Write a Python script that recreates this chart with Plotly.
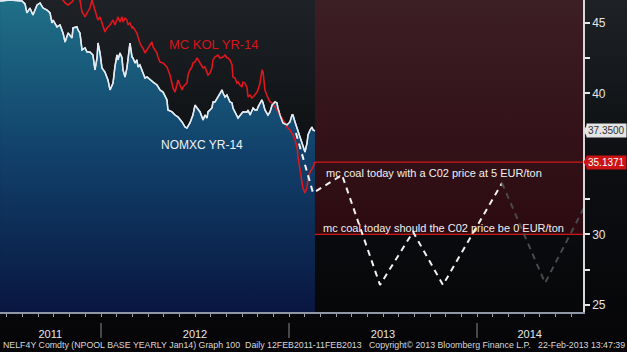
import base64
import plotly.graph_objects as go

# ---------------- data (decimal years, EUR/MWh) ----------------
nomxc_t = [2011.463, 2011.516, 2011.580, 2011.596, 2011.606, 2011.622, 2011.638, 2011.660, 2011.676, 2011.692,
           2011.713, 2011.729, 2011.739, 2011.745, 2011.766, 2011.782, 2011.798, 2011.809, 2011.825, 2011.846,
           2011.851, 2011.872, 2011.878, 2011.888, 2011.899, 2011.915, 2011.926, 2011.941, 2011.957, 2011.968,
           2011.979, 2011.984, 2011.995, 2012.005, 2012.021, 2012.037, 2012.048, 2012.064, 2012.074, 2012.085,
           2012.090, 2012.101, 2012.112, 2012.117, 2012.128, 2012.138, 2012.154, 2012.165, 2012.170, 2012.181,
           2012.191, 2012.197, 2012.207, 2012.223, 2012.234, 2012.245, 2012.261, 2012.277, 2012.298, 2012.314,
           2012.330, 2012.351, 2012.356, 2012.378, 2012.394, 2012.410, 2012.431, 2012.447, 2012.457, 2012.473,
           2012.489, 2012.500, 2012.511, 2012.527, 2012.543, 2012.553, 2012.564, 2012.569, 2012.590, 2012.596,
           2012.606, 2012.617, 2012.622, 2012.644, 2012.649, 2012.660, 2012.670, 2012.686, 2012.697, 2012.702,
           2012.723, 2012.729, 2012.750, 2012.755, 2012.777, 2012.782, 2012.793, 2012.803, 2012.809, 2012.819,
           2012.830, 2012.835, 2012.856, 2012.862, 2012.872, 2012.888, 2012.899, 2012.910, 2012.926, 2012.936,
           2012.941, 2012.952, 2012.963, 2012.968, 2012.989, 2013.005, 2013.016, 2013.021, 2013.032, 2013.043,
           2013.048, 2013.059, 2013.069, 2013.074, 2013.085, 2013.096, 2013.101, 2013.112, 2013.122, 2013.128,
           2013.138]
nomxc_v = [46.56, 46.63, 46.56, 46.35, 45.71, 46.06, 45.57, 46.28, 46.42, 46.06,
           45.92, 45.71, 45.00, 45.21, 44.72, 44.86, 44.29, 43.65, 44.29, 43.94,
           44.65, 44.72, 44.50, 44.29, 43.09, 43.23, 42.94, 42.94, 42.73, 41.67,
           42.52, 43.58, 42.87, 41.81, 41.52, 40.96, 40.25, 40.74, 41.88, 42.73,
           42.38, 42.87, 42.52, 41.67, 41.17, 41.81, 43.58, 42.59, 42.52, 42.16,
           42.38, 41.88, 42.02, 41.52, 41.10, 41.17, 40.96, 40.81, 40.60, 40.25,
           40.10, 39.54, 38.83, 38.69, 38.47, 38.33, 37.98, 37.62, 37.55, 37.91,
           38.47, 39.18, 38.97, 38.69, 38.12, 38.47, 38.26, 38.69, 38.97, 39.40,
           39.40, 39.68, 39.75, 40.25, 40.03, 39.75, 39.89, 39.40, 39.33, 38.97,
           38.33, 38.26, 38.62, 38.69, 38.69, 38.83, 38.47, 38.83, 38.97, 38.83,
           38.83, 39.04, 39.54, 39.33, 38.83, 38.47, 38.69, 39.18, 39.40, 39.33,
           38.97, 38.47, 38.12, 37.91, 37.77, 37.98, 38.47, 38.47, 37.98, 37.55,
           37.20, 36.84, 36.49, 36.20, 35.85, 36.49, 37.06, 37.41, 37.62, 37.41,
           37.35]

mckol_t = [2011.729, 2011.771, 2011.798, 2011.809, 2011.825, 2011.846, 2011.867, 2011.888, 2011.899, 2011.915,
           2011.926, 2011.941, 2011.952, 2011.968, 2011.979, 2011.984, 2011.995, 2012.005, 2012.021, 2012.032,
           2012.048, 2012.064, 2012.074, 2012.085, 2012.090, 2012.101, 2012.112, 2012.117, 2012.128, 2012.138,
           2012.144, 2012.154, 2012.165, 2012.170, 2012.191, 2012.197, 2012.207, 2012.218, 2012.223, 2012.234,
           2012.245, 2012.261, 2012.271, 2012.277, 2012.287, 2012.298, 2012.303, 2012.314, 2012.330, 2012.351,
           2012.367, 2012.378, 2012.383, 2012.394, 2012.404, 2012.410, 2012.420, 2012.431, 2012.436, 2012.447,
           2012.457, 2012.463, 2012.473, 2012.484, 2012.489, 2012.500, 2012.511, 2012.527, 2012.543, 2012.553,
           2012.564, 2012.569, 2012.580, 2012.590, 2012.596, 2012.606, 2012.622, 2012.633, 2012.649, 2012.660,
           2012.670, 2012.676, 2012.686, 2012.697, 2012.702, 2012.713, 2012.723, 2012.729, 2012.739, 2012.750,
           2012.755, 2012.766, 2012.777, 2012.782, 2012.793, 2012.803, 2012.809, 2012.819, 2012.830, 2012.835,
           2012.846, 2012.856, 2012.862, 2012.872, 2012.883, 2012.888, 2012.899, 2012.910, 2012.915, 2012.926,
           2012.936, 2012.941, 2012.952, 2012.968, 2012.979, 2012.989, 2012.995, 2013.005, 2013.021, 2013.032,
           2013.043, 2013.048, 2013.059, 2013.069, 2013.074, 2013.085, 2013.096, 2013.101, 2013.112, 2013.128,
           2013.138]
mckol_v = [47.70, 46.99, 46.63, 46.42, 46.28, 46.49, 46.91, 46.63, 45.78, 45.43,
           45.71, 46.06, 46.63, 45.92, 45.57, 45.21, 45.43, 45.00, 44.36, 44.65,
           44.86, 45.21, 44.86, 45.21, 45.43, 45.07, 45.43, 45.07, 45.35, 45.21,
           44.86, 45.00, 44.65, 44.72, 44.29, 44.01, 43.58, 43.30, 43.23, 42.87,
           43.09, 43.44, 43.65, 43.30, 43.09, 42.87, 42.59, 42.23, 42.16, 41.88,
           41.31, 40.74, 40.39, 40.10, 40.81, 40.96, 40.60, 40.25, 40.46, 40.60,
           40.74, 41.31, 41.67, 41.88, 42.16, 42.23, 42.52, 42.16, 41.81, 41.88,
           41.52, 41.31, 41.45, 41.81, 42.38, 42.59, 42.73, 42.52, 42.59, 42.73,
           42.52, 42.52, 42.38, 42.02, 41.17, 41.10, 40.74, 40.81, 40.60, 40.46,
           40.81, 40.74, 40.39, 39.75, 39.89, 39.68, 39.75, 39.89, 40.10, 40.25,
           40.74, 41.67, 41.52, 40.25, 39.75, 39.68, 39.40, 39.33, 39.18, 39.04,
           38.83, 38.69, 38.47, 38.12, 37.91, 37.62, 37.55, 37.41, 37.06, 36.70,
           36.20, 35.50, 34.57, 33.87, 33.30, 32.94, 33.37, 34.01, 34.43, 34.79,
           35.1371]

proj_t = [2013.037, 2013.128, 2013.282, 2013.484, 2013.660, 2013.819, 2014.133]
proj_v = [37.20, 32.94, 34.22, 26.42, 30.18, 26.42, 33.65]
proj2_t = [2014.133, 2014.362, 2014.654]
proj2_v = [33.65, 26.56, 34.08]

co2_5_level = 35.1371   # mc coal with CO2 at 5 EUR/ton
co2_0_level = 30.0      # mc coal with CO2 at 0 EUR/ton
last_nomxc = 37.35

year_ticks = [2011.73, 2012.5, 2013.5, 2014.28]
year_labels = ["2011", "2012", "2013", "2014"]
year_bounds = [2012, 2013, 2014]
y_ticks = [25, 27.5, 30, 32.5, 35, 37.5, 40, 42.5, 45]
y_labels = ["25", "", "30", "", "", "", "40", "", "45"]

x_range = [2011.4628, 2014.5638]
y_range = [24.5, 46.63]

FONT = "Liberation Sans"

fig = go.Figure()

# future shaded region (dark maroon)
x0 = nomxc_t[-1]
x1 = x_range[1] + 0.2
fig.add_trace(go.Scatter(
    x=[x0, x1, x1, x0, x0], y=[co2_0_level, co2_0_level, y_range[1] + 1, y_range[1] + 1, co2_0_level],
    mode="lines", line=dict(width=0), fill="toself",
    fillgradient=dict(type="vertical", start=co2_0_level, stop=y_range[1],
                      colorscale=[[0, "#2c0a10"], [1, "#3c1e25"]]),
    hoverinfo="skip", showlegend=False))

# NOMXC with gradient area
fig.add_trace(go.Scatter(
    x=nomxc_t, y=nomxc_v, mode="lines", line=dict(color="#dfe7ef", width=1.5),
    fill="tozeroy",
    fillgradient=dict(type="vertical", start=y_range[0], stop=y_range[1],
                      colorscale=[[0, "#091640"], [0.5, "#11406a"], [1, "#1f7088"]]),
    hoverinfo="skip", showlegend=False))

# MC KOL
fig.add_trace(go.Scatter(x=mckol_t, y=mckol_v, mode="lines",
                         line=dict(color="#e0161c", width=1.6), showlegend=False))
# white line on top again
fig.add_trace(go.Scatter(x=nomxc_t, y=nomxc_v, mode="lines",
                         line=dict(color="#e4ebf2", width=1.4), showlegend=False))

# level lines
for lvl in (co2_5_level, co2_0_level):
    fig.add_trace(go.Scatter(x=[x0, x1], y=[lvl, lvl], mode="lines",
                             line=dict(color="#d01818", width=1.3), showlegend=False))

# projection zig-zag
fig.add_trace(go.Scatter(x=proj_t, y=proj_v, mode="lines",
                         line=dict(color="#f2f2f2", width=2, dash="6px,5px"), showlegend=False))
fig.add_trace(go.Scatter(x=proj2_t, y=proj2_v, mode="lines",
                         line=dict(color="#4a4a4e", width=2, dash="6px,5px"), showlegend=False))

# background gradient image
svg = ('<svg xmlns="http://www.w3.org/2000/svg" width="10" height="100" preserveAspectRatio="none">'
       '<defs><linearGradient id="g" x1="0" y1="0" x2="0" y2="1">'
       '<stop offset="0" stop-color="#1e2226"/><stop offset="0.45" stop-color="#0d0f12"/>'
       '<stop offset="1" stop-color="#050507"/></linearGradient></defs>'
       '<rect width="10" height="100" fill="url(#g)"/></svg>')
uri = "data:image/svg+xml;base64," + base64.b64encode(svg.encode()).decode()

W, H = 627, 352
ml, mr, mt, mb = 0, 44, 0, 40
pw, ph = W - ml - mr, H - mt - mb

fig.update_layout(
    width=W, height=H,
    margin=dict(l=ml, r=mr, t=mt, b=mb, pad=0),
    paper_bgcolor="#060709", plot_bgcolor="rgba(0,0,0,0)",
    images=[dict(source=uri, xref="paper", yref="paper", x=0, y=1,
                 sizex=W / pw, sizey=H / ph, sizing="stretch", layer="below", xanchor="left", yanchor="top")],
    font=dict(family=FONT, color="#e6e6e6"),
    xaxis=dict(range=x_range, showgrid=False, zeroline=False,
               showline=True, linecolor="#8e98a6", linewidth=2,
               tickmode="array", tickvals=year_ticks, ticktext=year_labels,
               ticks="outside", ticklen=11, tickcolor="rgba(0,0,0,0)",
               tickfont=dict(size=11, color="#e6e6e6", family=FONT),
               minor=dict(tick0=2011, dtick=1 / 12, ticks="outside", ticklen=3,
                          tickcolor="#9aa0aa", tickwidth=1, showgrid=False)),
    yaxis=dict(range=y_range, side="right", showgrid=False, zeroline=False,
               showline=True, linecolor="#d8d8d8", linewidth=1.5,
               tickmode="array", tickvals=y_ticks, ticktext=y_labels,
               ticks="outside", ticklen=5, tickwidth=2, tickcolor="#e8e8e8",
               tickfont=dict(size=12, color="#e6e6e6", family=FONT)),
    showlegend=False,
)

# year dividers below axis
for yb in year_bounds:
    fig.add_shape(type="line", xref="x", yref="paper", x0=yb, x1=yb,
                  y0=-11 / ph, y1=-26 / ph, line=dict(color="#8a8a8a", width=1))

# small pointers for the last-value boxes
for lvl, col in ((last_nomxc, "#e4e4e4"), (co2_5_level, "#cc1414")):
    fig.add_shape(type="path", xref="paper", yref="y",
                  path="M %f,%f L %f,%f L %f,%f Z" % (1 + 0.5 / pw, lvl, 1 + 4 / pw, lvl + 0.42, 1 + 4 / pw, lvl - 0.42),
                  fillcolor=col, line=dict(width=0))

ann = []
ann.append(dict(x=2012.351, y=43.44, xref="x", yref="y", text="MC KOL YR-14", showarrow=False,
                xanchor="left", yanchor="middle", font=dict(size=13, color="#d8141c", family=FONT)))
ann.append(dict(x=2012.309, y=36.35, xref="x", yref="y", text="NOMXC YR-14", showarrow=False,
                xanchor="left", yanchor="middle", font=dict(size=12, color="#eef2f6", family=FONT)))
ann.append(dict(x=2013.186, y=34.36, xref="x", yref="y",
                text="mc coal today with a C02 price at 5 EUR/ton", showarrow=False,
                xanchor="left", yanchor="middle", font=dict(size=11, color="#f0f0f0", family=FONT)))
ann.append(dict(x=2013.170, y=30.46, xref="x", yref="y",
                text="mc coal today should the C02 price be 0 EUR/ton", showarrow=False,
                xanchor="left", yanchor="middle", font=dict(size=11, color="#f0f0f0", family=FONT)))
ann.append(dict(x=1, y=last_nomxc, xref="paper", yref="y", text="%.4f" % last_nomxc, showarrow=False,
                xanchor="left", yanchor="middle", xshift=3, bgcolor="#e4e4e4", borderpad=1,
                font=dict(size=10, color="#303030", family=FONT)))
ann.append(dict(x=1, y=co2_5_level, xref="paper", yref="y", text="%.4f" % co2_5_level, showarrow=False,
                xanchor="left", yanchor="middle", xshift=3, bgcolor="#cc1414", borderpad=1,
                font=dict(size=10, color="#ffffff", family=FONT)))
footer = ("NELF4Y Comdty (NPOOL BASE YEARLY Jan14) Graph 100\u00a0\u00a0Daily 12FEB2011-11FEB2013"
          "\u00a0\u00a0\u00a0Copyright\u00a9 2013 Bloomberg Finance L.P.\u00a0\u00a0\u00a022-Feb-2013 13:47:39")
ann.append(dict(x=0, y=-33 / ph, xref="paper", yref="paper", text=footer, showarrow=False,
                xanchor="left", yanchor="middle", xshift=1, font=dict(size=8.8, color="#d8d8d8", family=FONT)))
fig.update_layout(annotations=ann)

fig.write_html("out.html")
